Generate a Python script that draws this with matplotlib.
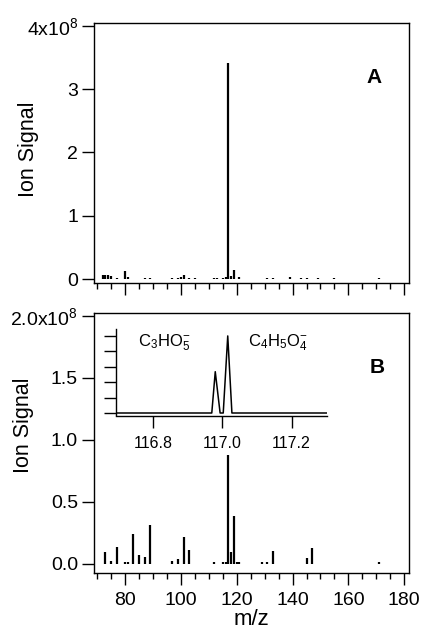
import matplotlib
matplotlib.use("Agg")
import matplotlib.pyplot as plt
from matplotlib.ticker import MultipleLocator, FixedLocator

plt.rcParams['font.family'] = ['Liberation Sans', 'DejaVu Sans']
plt.rcParams['mathtext.fontset'] = 'custom'
plt.rcParams['mathtext.rm'] = 'Liberation Sans'
plt.rcParams['mathtext.it'] = 'Liberation Sans:italic'
plt.rcParams['mathtext.bf'] = 'Liberation Sans:bold'

# ---- data (ion signal in units of 1e8) ----
mz_A = [72, 73, 74, 75, 77, 80, 81, 87, 89, 97, 99, 100, 101, 103, 105,
        112, 113, 115, 116, 117, 118, 119, 121, 131, 133, 139, 143, 145,
        149, 155, 171]
sig_A = [0.06, 0.07, 0.06, 0.05, 0.02, 0.12, 0.03, 0.02, 0.02, 0.02, 0.02,
         0.03, 0.06, 0.02, 0.02, 0.02, 0.02, 0.02, 0.03, 3.42, 0.05, 0.15,
         0.03, 0.02, 0.02, 0.03, 0.02, 0.02, 0.02, 0.02, 0.02]

mz_B = [73, 75, 77, 80, 81, 83, 85, 87, 89, 97, 99, 101, 103, 112, 115,
        116, 117, 118, 119, 120, 121, 129, 131, 133, 145, 147, 171]
sig_B = [0.095, 0.02, 0.135, 0.012, 0.012, 0.24, 0.073, 0.06, 0.315, 0.02,
         0.04, 0.215, 0.11, 0.015, 0.012, 0.015, 0.88, 0.094, 0.387, 0.012,
         0.012, 0.015, 0.015, 0.105, 0.05, 0.125, 0.015]

# inset: high-resolution profile around m/z 117
mz_inset = [116.694, 116.970, 116.980, 116.994, 117.003, 117.016, 117.028, 117.302]
sig_inset = [0, 0, 2.68, 0, 0, 5.0, 0, 0]

yticks_A = [0, 1, 2, 3, 4]
ylabels_A = ['0', '1', '2', '3', '4x10$^{8}$']
yticks_B = [0, 0.5, 1.0, 1.5, 2.0]
ylabels_B = ['0.0', '0.5', '1.0', '1.5', '2.0x10$^{8}$']
xticks_main = [80, 100, 120, 140, 160, 180]
xticks_inset = [116.8, 117.0, 117.2]

W, H = 423, 633
fig = plt.figure(figsize=(W / 100, H / 100), dpi=100)

def px_axes(l, t, r, b):
    return [l / W, 1 - b / H, (r - l) / W, (b - t) / H]

TICKFS = 14
INSETFS = 11.5
LW_SP = 1.0

def style_main(ax):
    for s in ax.spines.values():
        s.set_linewidth(LW_SP)
    ax.tick_params(axis='both', which='major', direction='out', length=8.5,
                   width=1.0, labelsize=TICKFS, top=False, right=False)
    ax.tick_params(axis='y', which='major', pad=3)
    ax.tick_params(axis='x', which='major', pad=5)
    ax.tick_params(axis='x', which='minor', direction='out', length=4.5, width=1.0)
    ax.xaxis.set_major_locator(FixedLocator(xticks_main))
    ax.xaxis.set_minor_locator(MultipleLocator(5))
    ax.set_xlim(68.9, 181.7)

# ---- panel A ----
axA = fig.add_axes(px_axes(94, 23, 409, 283))
axA.vlines(mz_A, 0, sig_A, color='black', lw=1.6)
style_main(axA)
axA.set_ylim(-0.063, 4.047)
axA.set_yticks(yticks_A)
axA.set_yticklabels(ylabels_A)
axA.set_xticklabels([])
axA.set_ylabel('Ion Signal', fontsize=15.5)
axA.yaxis.set_label_coords((39 - 94) / 315, 0.515)
axA.text(0.889, 0.79, 'A', transform=axA.transAxes, fontsize=15,
         fontweight='bold', ha='center', va='center')

# ---- panel B ----
axB = fig.add_axes(px_axes(94, 313, 409, 573))
axB.vlines(mz_B, 0, sig_B, color='black', lw=1.6)
style_main(axB)
axB.set_ylim(-0.073, 2.024)
axB.set_yticks(yticks_B)
axB.set_yticklabels(ylabels_B)
axB.set_xticklabels([str(v) for v in xticks_main])
axB.set_xlabel('m/z', fontsize=16, labelpad=0)
axB.set_ylabel('Ion Signal', fontsize=15.5)
axB.yaxis.set_label_coords((34 - 94) / 315, 0.569)
axB.text(0.898, 0.79, 'B', transform=axB.transAxes, fontsize=15,
         fontweight='bold', ha='center', va='center')

# ---- inset ----
axI = fig.add_axes(px_axes(116, 329, 327, 415.5))
axI.set_facecolor('none')
axI.plot(mz_inset, sig_inset, color='black', lw=1.1)
axI.set_xlim(116.694, 117.302)
axI.set_ylim(-0.162, 5.45)
axI.spines['top'].set_visible(False)
axI.spines['right'].set_visible(False)
for s in ('left', 'bottom'):
    axI.spines[s].set_linewidth(LW_SP)
axI.set_xticks(xticks_inset)
axI.set_xticklabels(['%.1f' % v for v in xticks_inset])
axI.set_yticks([0, 1, 2, 3, 4, 5])
axI.set_yticklabels([])
axI.tick_params(axis='both', direction='out', length=8.5, width=1.0,
                labelsize=INSETFS, pad=6)
fig.text(164 / W, 1 - 343 / H, r'C$_3$HO$_5^{-}$', fontsize=12,
         ha='center', va='center')
fig.text(278 / W, 1 - 343 / H, r'C$_4$H$_5$O$_4^{-}$', fontsize=12,
         ha='center', va='center')

fig.savefig('out.png', dpi=100)
